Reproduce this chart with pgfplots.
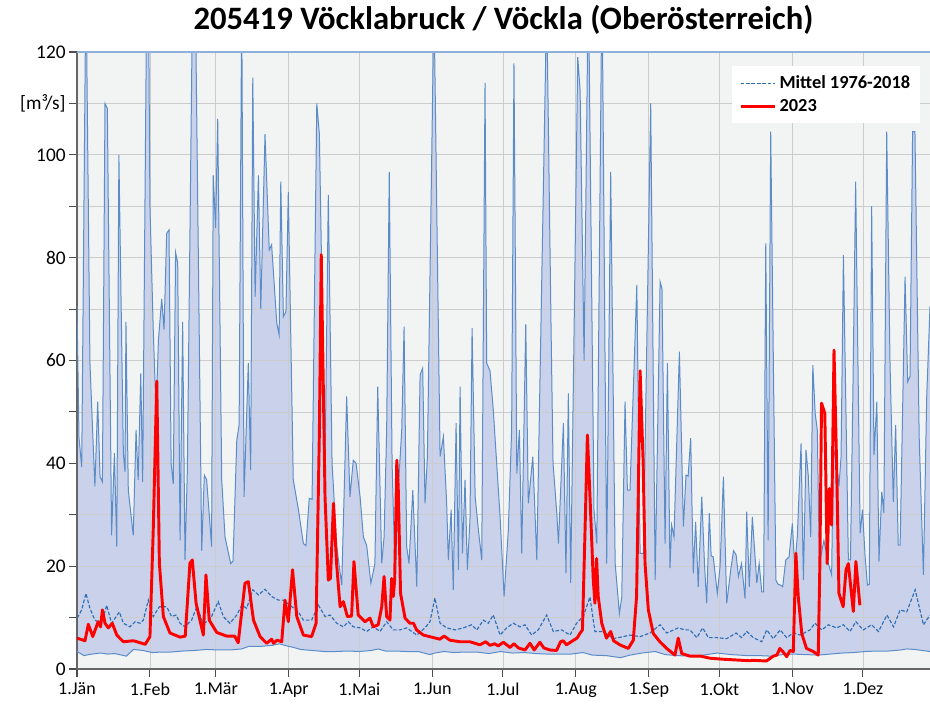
\documentclass[border=0pt]{standalone}
\usepackage{fontspec}
\setmainfont{Carlito}
\usepackage{pgfplots}
\pgfplotsset{compat=1.18}
\usepackage{pgfplotstable}

\definecolor{bgc}{HTML}{F2F4F4}
\definecolor{band}{HTML}{C9D2EA}
\definecolor{bandline}{HTML}{5B8CC8}
\definecolor{meanc}{HTML}{2E6DB4}
\definecolor{topc}{HTML}{8DB0DC}

\pgfplotstableread{
x y
0 70.5
0.85 45
2.0 39.3
3.8 135
5.5 59.5
7.6 35.5
8.8 52
9.8 37.4
10.8 36.4
11.9 110
12.9 109
14.7 26
15.9 42
16.9 23.8
17.8 100
19.7 42
20.4 38.4
20.8 67.5
21.8 34.8
23.9 26
25.1 46.5
26.0 36.8
27.1 57.5
27.9 36.4
29.6 130
30.4 130
31.0 90
32.4 66
33.6 50
34.6 64
36.0 72
37.0 66
38.1 84.7
39.1 85.4
40.0 40
40.9 36
41.9 81
42.8 79
43.8 25
44.9 67.5
45.9 21.2
46.9 38.7
49.2 135
50.2 135
53.0 23
54.1 37.7
55.1 36.8
57.2 23.8
57.9 96
58.9 85.8
59.8 107
61.5 36.8
62.9 25.7
65.3 20.5
66.3 21
67.9 44.5
68.9 47.5
70.0 130
71.0 33.5
72.8 59.5
73.8 38.7
74.7 115
75.7 72.4
77.1 96
78.1 70
79.9 104
81.7 81.5
82.7 82.5
84.9 67.3
85.9 65
86.6 94.8
87.7 68.5
88.8 69.5
89.8 92.8
91.9 36.8
94.1 31
96.2 24.4
97.3 24
98.7 33.2
99.9 33
101.9 110
103.0 104
105.4 38.7
106.8 92.2
108.4 40
110.4 23.8
112.5 16.3
114.6 53
116.0 33.5
117.4 40.6
118.6 40
120.3 33.5
121.7 25.7
123.1 24
124.9 16.7
126.6 20.5
127.8 54.9
129.5 20.6
130.5 25.7
131.6 46.5
132.7 96.7
133.9 40
135.2 18
136.6 35.5
138.0 46.5
139.0 66.6
140.1 23.8
141.1 20.5
142.7 34.8
144.4 16
145.8 57.2
146.9 58.5
147.9 32.2
148.9 41.3
149.7 66.6
151.7 130
154.3 41.3
155.7 45.2
157.1 32.2
157.8 21.2
159.0 31
159.9 15.4
161.1 47.8
162.1 19.3
162.8 54.9
163.8 22.5
164.9 36.8
165.9 19.3
167.0 29
167.9 66.3
169.2 33.5
170.6 27
172.0 21.2
173.4 114
174.1 59.5
175.5 58
176.9 50.4
179.8 29.6
181.5 14.1
183.3 27
184.7 46.5
185.7 117.8
186.9 38
188.0 46.5
189.0 22.5
190.7 67
191.8 32.2
193.7 41.3
195.4 21.2
199.6 130
201.5 65
202.3 40
203.9 30.3
204.6 24.4
206.7 47.8
207.8 18.6
208.8 53.6
209.8 16.7
212.8 119
213.8 112.6
215.5 60
217.3 135
219.7 31
220.9 24.4
223.1 135
225.1 20.5
226.8 96.7
228.7 20.5
230.5 10.8
231.5 14
232.9 52
233.9 34.8
235.0 34.8
237.9 74.7
239.3 22.5
240.7 22.5
243.8 110
245.7 17.3
247.8 75.3
248.6 74
249.9 24.4
250.9 59.5
252.0 19.6
252.7 28
253.7 25.7
256.0 61.7
257.7 27.7
258.8 37.7
259.7 37.5
260.8 44.9
261.9 18.6
262.9 28.6
264.0 16
265.5 33.5
266.7 20
267.6 12.8
268.7 30.3
269.5 22
270.4 21.8
272.1 14.7
273.3 20
274.7 37.4
276.1 12.8
277.9 19.6
279.0 23
280.1 22.2
281.1 18
282.4 20.5
283.9 13.7
284.6 30.6
285.7 16
287.0 29.6
288.9 16.7
289.9 20.5
291.0 15
291.8 15
292.7 82.8
293.7 25
294.8 104.5
297.0 17.3
297.9 16.5
299.0 16.3
299.9 16
301.2 21.2
302.6 21.8
304.0 28.3
305.0 19.9
306.1 25.7
307.7 43.9
308.7 17.3
309.8 42.6
310.8 37.4
311.8 25.7
312.7 59.1
313.7 49.7
314.6 46.5
315.5 20.5
317.4 25
319.3 20.5
320.7 18.3
321.4 43.2
322.9 39.4
323.8 35.5
324.7 41.3
325.7 80.5
327.8 21.2
328.7 21.2
329.7 53
330.9 94.8
332.8 26.4
333.8 31
334.9 22
335.9 16.3
336.7 16.5
337.7 90
338.7 41.6
339.9 52
340.8 20.9
342.0 34.5
342.9 30.3
344.1 104.5
345.5 59.5
346.9 32.5
347.9 47.5
349.0 24.1
349.8 24.1
351.9 76.3
353.0 55.9
354.0 56.9
355.1 104.5
356.1 104.5
357.9 45
359.7 18.3
361.1 53
362.5 70.5
}\maxtab

\pgfplotstableread{
x y
0 3.4
3 2.6
5 2.8
8 3.0
10 3.1
13 2.9
16 3.0
19 2.7
21 2.5
24 3.8
28 3.6
32 3.2
36 3.3
40 3.3
45 3.5
50 3.6
55 3.8
60 3.7
65 3.7
70 3.9
73 4.4
78 4.4
83 4.6
86 4.9
89 4.5
92 4.2
95 3.8
100 3.6
105 3.4
110 3.4
115 3.5
120 3.4
125 3.6
128 3.9
131 3.5
135 3.5
140 3.4
145 3.4
150 2.8
152 3.1
156 3.4
160 3.2
165 3.3
170 3.3
175 3.0
180 3.4
185 3.1
190 3.2
195 3.0
200 2.9
205 2.9
210 2.9
215 3.2
219 2.7
225 2.6
231 2.2
235 2.7
240 3.1
245.7 3.4
250 2.8
255 2.6
262 2.5
266 2.7
272 3.1
278 2.8
285 2.6
290 2.6
295 2.5
300 2.8
304 2.9
310 2.8
315 2.7
320 2.9
325 3.1
330 3.2
335 3.4
340 3.5
345 3.5
350 3.7
352.6 3.9
356 3.8
362.5 3.4
}\mintab

\pgfplotstableread{
x y
0.1 9.9
2 11.5
3.8 14.7
5.5 11.8
7.6 9.5
10.5 8.9
12.6 12.4
14.7 8.9
18 11.1
19.7 8.9
22.5 8.2
24.7 9.2
26.8 8.9
28.2 9.5
30.3 13.4
32.4 10.2
35 12.1
38.1 12.1
40.2 10.2
42.1 10.5
43.8 8.9
45.9 8.2
48.7 9.5
50.9 12.1
53.7 8.9
56.5 9.5
60 13.1
62.2 10.2
65 8.9
67.9 10.5
70 12.4
72.1 11.8
74.7 15.4
77.1 14.4
79.9 15.5
82.7 14.1
85.6 13.4
87.7 13.4
90.5 12.4
94.1 11.1
96.2 9.5
99.7 9.5
102.6 12.4
105.4 10.2
107.5 10.5
110.4 8.9
113.2 8.2
115.3 9.2
117.4 8.2
120.3 8
123.1 7.3
125.9 8.2
128.8 7.3
131.6 9.2
134.4 7.6
137.3 7.6
140.1 8
144.4 6.6
147.9 8
150 9.2
152.1 13.8
154.3 8.9
157.1 8
160.7 7.6
164.2 8
167.7 8.6
169.9 7.6
172.7 9.5
174.8 8.9
176.9 10.5
179.8 6.6
182.6 8
185.4 8.9
188.3 8.2
190.4 8.6
193.2 6.6
196 7.6
199.6 10.5
202.4 7.3
206 7.6
209.5 6.6
212.3 8.9
215.1 10.2
218 14
220.1 7.3
223.7 7.3
227.9 5.9
232.2 6.3
235 6.6
239.3 6.3
243.5 7
247.8 8.6
250.6 7
255.5 8
258.4 7.6
260.5 7.6
263.4 6.1
265.9 8
268.3 6.1
271.9 6.1
276.1 5.9
280.1 7
282.5 6.1
284.6 7.3
287.4 6.1
291 5.3
293.1 7.6
295.9 5.9
298.8 7.6
301.6 6.1
304.4 7
307.3 6.6
311.5 7.6
313.6 8.9
316.5 7.6
319.3 8.6
322.8 8
325.7 8.6
328.5 7.3
331 9.2
334.1 7.6
337.7 8.6
340.6 7.3
344.2 10.5
347 8.2
349.8 11.5
352.6 11.1
356.2 15.4
359.7 8.6
362.5 10.5
}\meantab

\pgfplotstableread{
x y
0 6.0
3.4 5.5
4.8 8.7
6.7 6.3
9 9.2
10 8.2
10.8 11.5
11.9 8.9
13.3 8.0
15 8.9
16.9 6.6
19.7 5.3
24 5.5
29 4.8
31 6.3
32.4 27
33.9 56
35 20.6
36.7 10.2
39.5 7.0
43.8 6.2
46 6.4
48 20.6
49 21.2
50.6 12.8
53.7 6.6
54.8 18.3
56.2 9.5
59.4 7.1
63.6 6.4
67 6.4
68.5 5.1
71.4 16.7
72.8 17.0
75 9.5
77.8 6.3
80.6 5.0
82.7 5.8
83.5 5.0
85 5.6
87 5.3
88.4 13.4
89.8 9.2
91.6 19.3
93.4 10.2
96.2 6.6
99.7 6.3
101.6 8.9
103 46
103.8 80.6
105.4 33.5
106.8 17.3
107.7 17.6
109 32.2
110.3 20.6
111.8 12.1
113.2 13.1
114.9 10.2
116.7 10.3
117.7 20.9
119.5 10.5
122.4 9.2
124.5 9.9
125.9 8.2
128 8.6
129.5 12.1
130.5 18.0
131.6 10.2
133 9.5
133.7 17.6
134.4 14.1
135 17.3
135.9 40.6
136.5 35.5
137.5 14.7
139.4 9.9
141.5 8.9
143 8.9
144.3 7.6
147.2 6.6
150.7 6.2
154.2 5.8
156 6.4
158.5 5.6
162.7 5.3
167 5.3
171.2 4.7
173.7 5.3
175.5 4.6
177.5 4.9
179 4.5
181.2 5.2
184 4.2
185.7 4.9
187.6 4.1
190.4 3.7
192.5 5.0
194.3 3.7
196.7 5.2
198.4 4.1
201 3.7
203.8 3.6
205.5 5.3
206.6 5.5
208 4.7
211 5.6
212.5 6.0
213.7 6.9
214.8 7.6
215.9 27
216.9 45.5
218 33.5
219.4 17.3
220.1 12.8
220.8 21.5
221.5 14.1
223 8.9
225 6.0
226.8 7.3
228 5.5
230.7 4.7
234.3 4.0
236.4 5.6
237.8 14.1
238.5 33.5
239.3 58
240.6 40
241.4 20.5
242.8 11.5
244.9 6.9
247.7 5.3
250.6 4.0
254.1 2.7
255.5 6.0
257 3.0
260.5 2.5
265 2.5
269 2.1
274.6 1.9
280.3 1.75
286 1.6
287 1.7
293 1.55
295.9 2.5
297.4 2.7
298.7 4.0
300.1 3.3
301.6 2.4
303 3.6
304.4 3.4
305.5 22.5
306.5 14.1
308 6.9
310 4.0
312.9 3.4
315 2.7
315.7 20.5
316.4 51.7
317.8 49.7
318.8 20.5
319.7 35.1
320.7 28
321.7 62
322.8 40
323.8 14.7
325.6 12.1
326.8 19.3
327.8 20.5
329.9 11.2
331 20.9
332.7 12.4
}\redtab

\begin{document}
\begin{tikzpicture}
\begin{axis}[
  set layers,
  clip mode=individual,
  at={(0,0)}, anchor=south west,
  scale only axis,
  width=639.75pt, height=462.75pt,
  xmin=0, xmax=362.5, ymin=0, ymax=120,
  axis lines*=left,
  axis line style={color=black!60, line width=1.1pt},
  tick style={color=black!70, line width=0.8pt},
  major tick length=6pt,
  tick align=outside,
  xtick={0,31,59,90,120,151,181,212,243,273,304,334},
  xticklabels={1.Jän,1.Feb,1.Mär,1.Apr,1.Mai,1.Jun,1.Jul,1.Aug,1.Sep,1.Okt,1.Nov,1.Dez},
  ytick={0,10,...,120},
  yticklabels={0,,20,,40,,60,,80,,100,{[m³/s]},120},
  xticklabel style={font=\fontsize{13.5}{16}\selectfont, yshift=-1pt},
  yticklabel style={font=\fontsize{14.5}{17}\selectfont, xshift=1pt},
  grid=major,
  grid style={color=black!20, line width=0.6pt},
  clip=true,
  legend style={at={(0.988,0.977)}, anchor=north east, draw=none, fill=white,
    font=\bfseries\fontsize{13.8}{16}\selectfont, inner xsep=5pt, inner ysep=5pt,
    row sep=2.5pt, legend cell align=left},
  legend image code/.code={\draw[#1] (0cm,0cm) -- (0.92cm,0cm);},
  after end axis/.code={\draw[color=topc, line width=0.9pt] (rel axis cs:0,1) -- (rel axis cs:1,1);},
]
\addplot[draw=none, fill=bgc, on layer=axis background, forget plot] coordinates {(0,0) (0,120) (362.5,120) (362.5,0)};
\addplot[draw=none, fill=band, on layer=axis background, forget plot] table {\maxtab} \closedcycle;
\addplot[draw=none, fill=bgc, on layer=axis background, forget plot] table {\mintab} \closedcycle;
\addplot[bandline, line width=0.75pt, forget plot] table {\maxtab};
\addplot[bandline, line width=0.75pt, forget plot] table {\mintab};
\addplot[meanc, line width=0.85pt, dash pattern=on 2.7pt off 1.4pt] table {\meantab};
\addplot[red, line width=2.2pt, line join=round] table {\redtab};
\legend{Mittel 1976-2018, 2023}
\end{axis}
\node[font=\bfseries\fontsize{24.5}{29}\selectfont] at (319.875pt,486.75pt) {205419 Vöcklabruck / Vöckla (Oberösterreich)};
\pgfresetboundingbox
\path[use as bounding box] (-57.75pt,-27.75pt) rectangle (639.75pt,501.75pt);
\end{tikzpicture}
\end{document}
